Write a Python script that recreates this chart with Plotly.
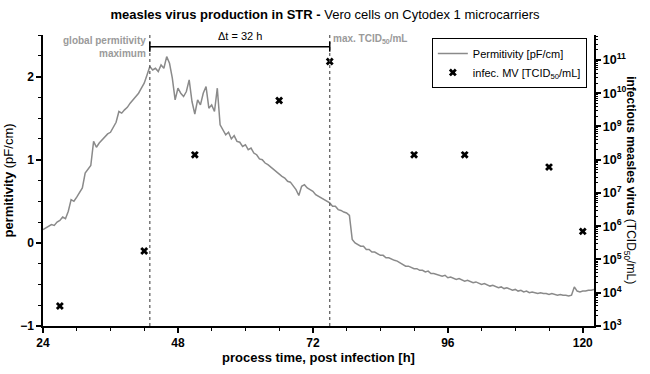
import numpy as np
import plotly.graph_objects as go

# ---- data -------------------------------------------------------------
perm_time = list(np.arange(24.0, 122.01, 0.5))
perm_values = [
    0.16, 0.18, 0.19, 0.22, 0.21, 0.25, 0.27, 0.31, 0.29, 0.38,   # 24-28.5
    0.52, 0.50, 0.55, 0.60, 0.66, 0.84, 0.88, 0.93, 1.22, 1.15,   # 29-33.5
    1.20, 1.24, 1.27, 1.31, 1.33, 1.40, 1.45, 1.58, 1.56, 1.60,   # 34-38.5
    1.63, 1.68, 1.72, 1.76, 1.80, 1.86, 1.92, 2.02, 2.12, 2.08,   # 39-43.5
    2.10, 2.06, 2.14, 2.10, 2.24, 2.16, 1.98, 1.72, 1.86, 1.80,   # 44-48.5
    1.76, 1.82, 1.96, 1.70, 1.55, 1.72, 1.66, 1.80, 1.88, 1.62,   # 49-53.5
    1.66, 1.58, 1.86, 1.42, 1.36, 1.30, 1.33, 1.25, 1.29, 1.22,   # 54-58.5
    1.21, 1.16, 1.18, 1.12, 1.14, 1.08, 1.06, 1.01, 1.00, 0.96,   # 59-63.5
    0.94, 0.91, 0.89, 0.86, 0.83, 0.80, 0.78, 0.74, 0.73, 0.68,   # 64-68.5
    0.64, 0.57, 0.68, 0.70, 0.66, 0.64, 0.62, 0.58, 0.56, 0.54,   # 69-73.5
    0.52, 0.50, 0.48, 0.44, 0.44, 0.40, 0.39, 0.37, 0.36, 0.33,   # 74-78.5
    0.04, 0.00, -0.02, -0.04, -0.04, -0.08, -0.08, -0.11, -0.11, -0.13,   # 79-83.5
    -0.15, -0.15, -0.18, -0.18, -0.20, -0.21, -0.22, -0.24, -0.25, -0.28,  # 84-88.5
    -0.28, -0.30, -0.31, -0.31, -0.33, -0.33, -0.35, -0.34, -0.37, -0.37,  # 89-93.5
    -0.38, -0.39, -0.40, -0.39, -0.42, -0.41, -0.43, -0.44, -0.43, -0.45,  # 94-98.5
    -0.46, -0.45, -0.47, -0.48, -0.47, -0.49, -0.50, -0.49, -0.51, -0.52,  # 99-103.5
    -0.51, -0.53, -0.54, -0.53, -0.55, -0.54, -0.56, -0.57, -0.56, -0.58,  # 104-108.5
    -0.57, -0.59, -0.58, -0.60, -0.59, -0.60, -0.61, -0.60, -0.61, -0.61,  # 109-113.5
    -0.62, -0.61, -0.62, -0.63, -0.62, -0.63, -0.63, -0.64, -0.63, -0.53,  # 114-118.5
    -0.58, -0.59, -0.58, -0.58, -0.57, -0.57, -0.56,                       # 119-122
]

tcid_time = [27, 42, 51, 66, 75, 90, 99, 114, 120]
tcid_values = [4e3, 1.8e5, 1.4e8, 6e9, 9e10, 1.4e8, 1.4e8, 6e7, 7e5]

x_ticks = [24, 48, 72, 96, 120]
T_MAX_PERM = 43
T_MAX_TCID = 75
LOG_RANGE = [3, 11.75]

GRAY_TXT = "#9a9a9a"
FONT = "Arial, Liberation Sans, sans-serif"

log_minor_vals = [m * 10 ** d for d in range(3, 12) for m in range(2, 10)
                  if np.log10(m * 10 ** d) <= LOG_RANGE[1]]

fig = go.Figure()
fig.add_trace(go.Scatter(
    x=perm_time, y=perm_values, mode="lines",
    line=dict(color="#8a8a8a", width=1.5),
    name="Permitivity [pF/cm]", yaxis="y"))
fig.add_trace(go.Scatter(
    x=tcid_time, y=tcid_values, mode="markers",
    marker=dict(symbol="x", size=7, color="black", line=dict(width=0)),
    name="infec. MV [TCID<sub>50</sub>/mL]", yaxis="y2"))
# carrier for the minor-tick axis (invisible)
fig.add_trace(go.Scatter(
    x=tcid_time, y=tcid_values, mode="markers", marker=dict(opacity=0),
    showlegend=False, hoverinfo="skip", yaxis="y3"))

# dotted verticals
for t in (T_MAX_PERM, T_MAX_TCID):
    fig.add_shape(type="line", xref="x", yref="paper", x0=t, x1=t, y0=0, y1=1,
                  line=dict(color="#555555", width=1.2, dash="dot"))
# delta-t bracket
yb = 2.36
fig.add_shape(type="line", xref="x", yref="y", x0=T_MAX_PERM, x1=T_MAX_TCID, y0=yb, y1=yb,
              line=dict(color="black", width=1.5))
for t in (T_MAX_PERM, T_MAX_TCID):
    fig.add_shape(type="line", xref="x", yref="y", x0=t, x1=t, y0=yb - 0.06, y1=yb + 0.06,
                  line=dict(color="black", width=1.5))

fig.add_annotation(x=(T_MAX_PERM + T_MAX_TCID) / 2, y=yb + 0.03, xref="x", yref="y",
                   text=f"\u0394t = {T_MAX_TCID - T_MAX_PERM} h", showarrow=False,
                   yanchor="bottom", font=dict(size=11, color="black", family=FONT))
fig.add_annotation(x=T_MAX_PERM - 0.3, y=yb, xref="x", yref="y",
                   text="<b>global permitivity<br>maximum</b>", showarrow=False,
                   xanchor="right", yanchor="middle", align="right",
                   font=dict(size=10, color=GRAY_TXT, family=FONT))
fig.add_annotation(x=T_MAX_TCID + 0.3, y=yb + 0.09, xref="x", yref="y",
                   text="<b>max. TCID<sub>50</sub>/mL</b>", showarrow=False,
                   xanchor="left", yanchor="middle", align="left",
                   font=dict(size=10, color=GRAY_TXT, family=FONT))

# right axis title (reads top to bottom)
fig.add_annotation(x=1.066, y=0.5, xref="paper", yref="paper",
                   text="<b>infectious measles virus</b> (TCID<sub>50</sub>/mL)",
                   textangle=90, showarrow=False, xanchor="center", yanchor="middle",
                   font=dict(size=12, color="black", family=FONT))

axis_common = dict(showline=True, linecolor="black", linewidth=1.5, showgrid=False,
                   zeroline=False, ticks="outside", tickcolor="black", tickwidth=1.5,
                   ticklen=5, automargin=False)

fig.update_layout(
    width=650, height=374,
    margin=dict(l=43, r=56, t=35, b=48),
    paper_bgcolor="white", plot_bgcolor="white",
    font=dict(family=FONT, color="black"),
    title=dict(text="<b>measles virus production in STR -</b> Vero cells on Cytodex 1 microcarriers",
               x=0.5, xanchor="center", y=0.962, yanchor="middle", yref="container",
               font=dict(size=13, color="black", family=FONT)),
    xaxis=dict(range=[24, 122], tickvals=x_ticks, ticktext=[str(v) for v in x_ticks],
               tickfont=dict(size=12, weight="bold"),
               minor=dict(dtick=6, tick0=24, ticks="outside", ticklen=3, tickcolor="black", tickwidth=1.2),
               title=dict(text="<b>process time, post infection [h]</b>", font=dict(size=13), standoff=4),
               **axis_common),
    yaxis=dict(range=[-1, 2.5], tickvals=[-1, 0, 1, 2], tickfont=dict(size=12, weight="bold"),
               minor=dict(dtick=0.25, tick0=0, ticks="outside", ticklen=3, tickcolor="black", tickwidth=1.2),
               title=dict(text="<b>permitivity</b> (pF/cm)", font=dict(size=13), standoff=4),
               **axis_common),
    yaxis2=dict(overlaying="y", side="right", type="log", range=LOG_RANGE,
                dtick=1, exponentformat="power", showexponent="all",
                tickfont=dict(size=10, weight="bold"),
                **axis_common),
    yaxis3=dict(overlaying="y", side="right", type="log", range=LOG_RANGE,
                tickvals=log_minor_vals, showticklabels=False, ticks="outside",
                ticklen=3, tickwidth=1, tickcolor="black", showline=False,
                showgrid=False, zeroline=False, automargin=False),
    legend=dict(x=0.987, y=0.99, xanchor="right", yanchor="top",
                bgcolor="white", bordercolor="black", borderwidth=1,
                font=dict(size=11, family=FONT), tracegroupgap=0, itemwidth=30),
    showlegend=True,
)

fig.write_html("out.html", config={"displayModeBar": False},
               post_script="document.body.style.margin='0px';document.body.style.overflow='hidden';")
